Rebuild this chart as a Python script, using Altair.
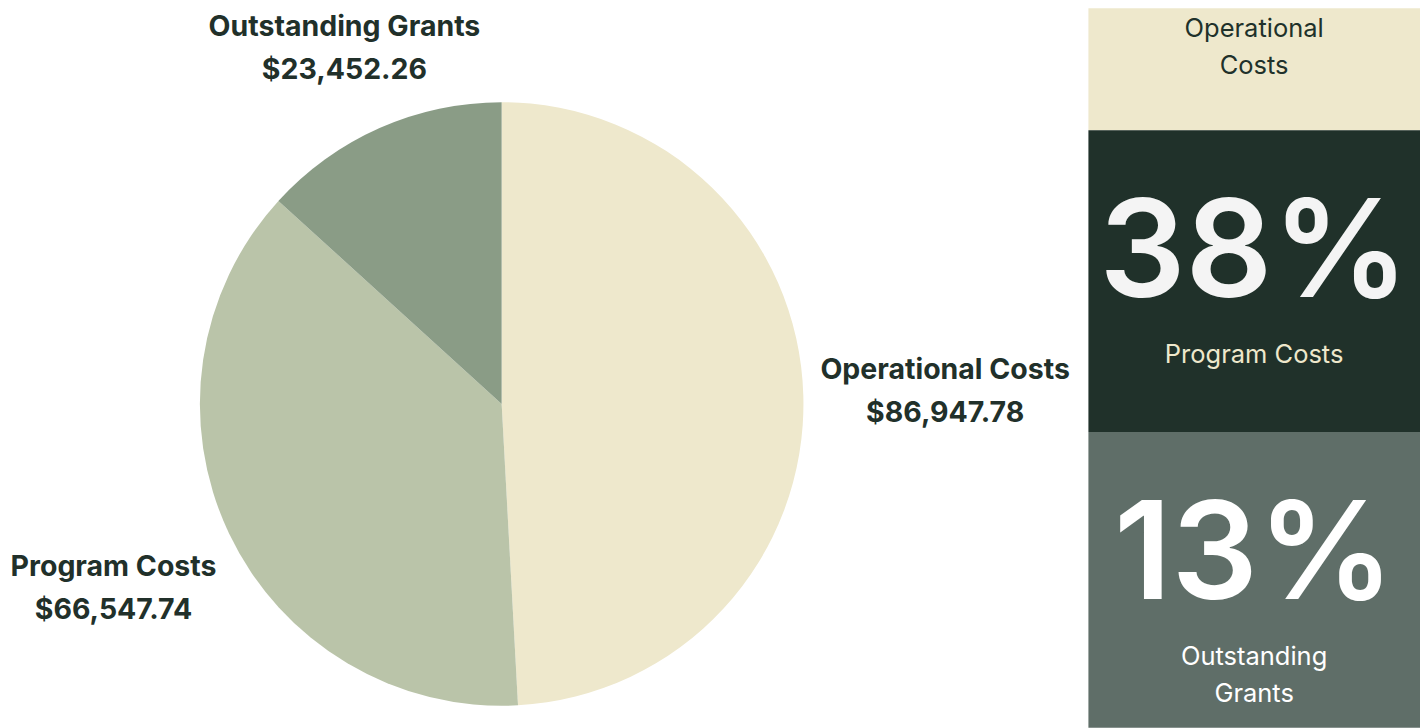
import altair as alt
import pandas as pd

# ---- data ----
categories = ["Operational Costs", "Program Costs", "Outstanding Grants"]
amounts = [86947.78, 66547.74, 23452.26]
panel_labels = ["Operational\nCosts", "Program Costs", "Outstanding\nGrants"]

# ---- styles ----
slice_colors = ["#EEE8CC", "#BAC4A9", "#8A9C86"]
box_colors = ["#EEE8CC", "#20312A", "#5F6E68"]
number_colors = ["#20312A", "#F4F4F4", "#FFFFFF"]
label_colors = ["#20312A", "#EEE8CC", "#FFFFFF"]
TEXT = "#21302A"
FONT = "Inter"
label_radii = [444, 430, 389]

df = pd.DataFrame({
    "category": categories,
    "amount": amounts,
    "order": list(range(len(categories))),
    "panel_label": panel_labels,
})

cx = alt.value(494)
cy = alt.value(396)

arc = alt.Chart(df).mark_arc(radius=302).encode(
    theta=alt.Theta("amount:Q", stack=True),
    order=alt.Order("order:Q"),
    color=alt.Color("category:N", scale=alt.Scale(domain=categories, range=slice_colors), legend=None),
    x=cx, y=cy,
)

# label base: mid-angle of each slice computed (radians, clockwise from top)
lbase = alt.Chart(df).transform_window(
    cum="sum(amount)", sort=[alt.SortField("order")], frame=[None, 0]
).transform_joinaggregate(total="sum(amount)").transform_calculate(
    mid="(datum.cum - datum.amount / 2) / datum.total * 2 * PI",
    label="datum.category + '\\n$' + format(datum.amount, ',.2f')",
)

label_layers = []
for cat, r in zip(categories, label_radii):
    label_layers.append(
        lbase.transform_filter(alt.datum.category == cat).mark_text(
            radius=r, lineBreak="\n", font=FONT, fontSize=28.5, fontWeight="bold",
            color=TEXT, lineHeight=43, align="center",
            baseline="middle", dy=-21.5,
        ).encode(theta=alt.Theta("mid:Q", scale=None), text="label:N", x=cx, y=cy)
    )

pie = alt.layer(arc, *label_layers).properties(width=1081, height=720)

# ---- right panel ----
ybase = alt.Y(
    "category:N", sort=categories, axis=None,
    scale=alt.Scale(range=[-180, 726], paddingInner=0, paddingOuter=0),
)
pbase = alt.Chart(df).transform_joinaggregate(total="sum(amount)").transform_calculate(
    pct="format(datum.amount / datum.total, '.0%')"
)
label_color = alt.Color("category:N", scale=alt.Scale(domain=categories, range=label_colors), legend=None)

rects = pbase.mark_rect(clip=True).encode(
    y=ybase, x=alt.value(0), x2=alt.value(332),
    color=alt.Color("category:N", scale=alt.Scale(domain=categories, range=box_colors), legend=None),
)
# top box is scrolled partly out of view: only its label is visible
numbers = pbase.transform_filter(alt.datum.order > 0).mark_text(
    clip=True, font=FONT, fontSize=136, fontWeight=600, dy=-25, align="center", baseline="middle"
).encode(
    y=ybase, x=alt.value(166), text="pct:N",
    color=alt.Color("category:N", scale=alt.Scale(domain=categories, range=number_colors), legend=None),
)
plabel_top = pbase.transform_filter(alt.datum.order == 0).mark_text(
    clip=True, font=FONT, fontSize=25.5, lineBreak="\n", lineHeight=37, dy=38,
    align="center", baseline="top",
).encode(y=ybase, x=alt.value(166), text="panel_label:N", color=label_color)
plabels = pbase.transform_filter(alt.datum.order > 0).mark_text(
    clip=True, font=FONT, fontSize=25.5, lineBreak="\n", lineHeight=37, dy=62,
    align="center", baseline="top",
).encode(y=ybase, x=alt.value(166), text="panel_label:N", color=label_color)

panel = alt.layer(rects, numbers, plabel_top, plabels).resolve_scale(color="independent").properties(
    width=332, height=720
)

chart = alt.hconcat(pie, panel, spacing=0).resolve_scale(color="independent").properties(
    padding=0, background="white"
).configure_view(stroke=None)

chart.save("out.html", embed_options={"renderer": "svg", "actions": False})
